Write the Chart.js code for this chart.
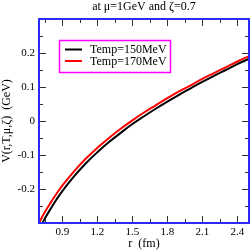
<!DOCTYPE html>
<html lang="en">
<head>
    <meta charset="UTF-8">
    <title>V(r,T,mu,zeta)</title>
    <script src="https://cdn.jsdelivr.net/npm/chart.js"></script>
    <style>
        html, body { margin: 0; padding: 0; background: #fff; overflow: hidden; }
        .chart-container { position: relative; width: 251px; height: 251px; }
    </style>
</head>
<body>
    <div class="chart-container">
        <canvas id="potChart" width="251" height="251"></canvas>
    </div>
    <script>
        // values
        const rValues = [0.70, 0.75, 0.80, 0.85, 0.90, 1.0, 1.1, 1.2, 1.3, 1.4, 1.5,
                         1.6, 1.7, 1.8, 1.9, 2.0, 2.1, 2.2, 2.3, 2.4, 2.5];
        const v150 = [-0.320, -0.287, -0.258, -0.231, -0.206, -0.163, -0.125, -0.092, -0.062, -0.035, -0.009,
                      0.014, 0.036, 0.057, 0.077, 0.096, 0.115, 0.133, 0.150, 0.167, 0.183];
        const v170 = [-0.300, -0.268, -0.240, -0.214, -0.190, -0.148, -0.111, -0.079, -0.050, -0.023, 0.002,
                      0.025, 0.046, 0.067, 0.087, 0.105, 0.124, 0.141, 0.158, 0.175, 0.191];
        const seriesLabels = ['Temp=150MeV', 'Temp=170MeV'];
        const xTicks = [0.9, 1.2, 1.5, 1.8, 2.1, 2.4];
        const xMinor = [0.75, 1.05, 1.35, 1.65, 1.95, 2.25];
        const yTicks = [-0.2, -0.1, 0, 0.1, 0.2];
        const yMinor = [-0.25, -0.15, -0.05, 0.05, 0.15, 0.25];

        const serif = '"Liberation Serif", "DejaVu Serif", serif';

        const framePlugin = {
            id: 'frame',
            afterDatasetsDraw(chart) {
                const ctx = chart.ctx;
                const a = chart.chartArea;
                const xs = chart.scales.x, ys = chart.scales.y;
                ctx.save();
                ctx.strokeStyle = '#333';
                ctx.lineWidth = 1;
                ctx.beginPath();
                function xt(list, len) {
                    list.forEach(v => {
                        const px = Math.round(xs.getPixelForValue(v)) + 0.5;
                        ctx.moveTo(px, a.bottom); ctx.lineTo(px, a.bottom - len);
                        ctx.moveTo(px, a.top); ctx.lineTo(px, a.top + len);
                    });
                }
                function yt(list, len) {
                    list.forEach(v => {
                        const py = Math.round(ys.getPixelForValue(v)) + 0.5;
                        ctx.moveTo(a.left, py); ctx.lineTo(a.left + len, py);
                        ctx.moveTo(a.right, py); ctx.lineTo(a.right - len, py);
                    });
                }
                xt(xTicks, 7); xt(xMinor, 4);
                yt(yTicks, 7); yt(yMinor, 4);
                ctx.stroke();
                ctx.strokeStyle = '#2a2aff';
                ctx.lineWidth = 2;
                ctx.strokeRect(a.left, a.top, a.right - a.left, a.bottom - a.top);
                ctx.restore();
            },
            afterDraw(chart) {
                const ctx = chart.ctx;
                const a = chart.chartArea;
                ctx.save();
                // title
                ctx.fillStyle = '#000';
                ctx.font = '12px ' + serif;
                ctx.textAlign = 'center';
                ctx.textBaseline = 'middle';
                ctx.fillText('at \u03bc=1GeV and \u03b6=0.7', (a.left + a.right) / 2, 7);
                // legend box
                ctx.strokeStyle = '#ff00ff';
                ctx.lineWidth = 1.5;
                ctx.strokeRect(59.5, 40.5, 111, 32);
                chart.data.datasets.forEach((ds, i) => {
                    const y = 49.5 + i * 11.5;
                    ctx.strokeStyle = ds.borderColor;
                    ctx.lineWidth = 2;
                    ctx.beginPath();
                    ctx.moveTo(65, y); ctx.lineTo(82, y);
                    ctx.stroke();
                    ctx.fillStyle = '#000';
                    ctx.textAlign = 'left';
                    ctx.fillText(ds.label, 90, y + 0.5);
                });
                ctx.restore();
            }
        };

        new Chart(document.getElementById('potChart'), {
            type: 'line',
            data: {
                datasets: [
                    { label: seriesLabels[0], data: rValues.map((r, i) => ({ x: r, y: v150[i] })),
                      borderColor: '#000000', borderWidth: 2, pointRadius: 0, tension: 0.4, fill: false },
                    { label: seriesLabels[1], data: rValues.map((r, i) => ({ x: r, y: v170[i] })),
                      borderColor: '#ff0000', borderWidth: 2, pointRadius: 0, tension: 0.4, fill: false }
                ]
            },
            options: {
                responsive: false,
                animation: false,
                devicePixelRatio: 1,
                layout: { padding: { top: 19, right: 2, left: 0, bottom: 0 } },
                plugins: { legend: { display: false }, tooltip: { enabled: false }, title: { display: false } },
                scales: {
                    x: {
                        type: 'linear', min: 0.7, max: 2.5,
                        afterBuildTicks: s => { s.ticks = xTicks.map(v => ({ value: v })); },
                        afterFit: s => { s.height = 28; },
                        grid: { display: false, drawTicks: false },
                        border: { display: false },
                        ticks: { color: '#000', padding: 3, font: { family: serif, size: 11 },
                                 maxRotation: 0, callback: v => String(v) },
                        title: { display: true, text: 'r  (fm)', color: '#000',
                                 font: { family: serif, size: 12 }, padding: { top: 0, bottom: 0 } }
                    },
                    y: {
                        min: -0.3, max: 0.3,
                        afterBuildTicks: s => { s.ticks = yTicks.map(v => ({ value: v })); },
                        afterFit: s => { s.width = 39; },
                        grid: { display: false, drawTicks: false },
                        border: { display: false },
                        ticks: { color: '#000', padding: 4, font: { family: serif, size: 11 },
                                 callback: v => String(v) },
                        title: { display: true, text: 'V(r,T,\u03bc,\u03b6)  (GeV)', color: '#000',
                                 font: { family: serif, size: 12 }, padding: { top: 0, bottom: 0 } }
                    }
                }
            },
            plugins: [framePlugin]
        });
    </script>
</body>
</html>
